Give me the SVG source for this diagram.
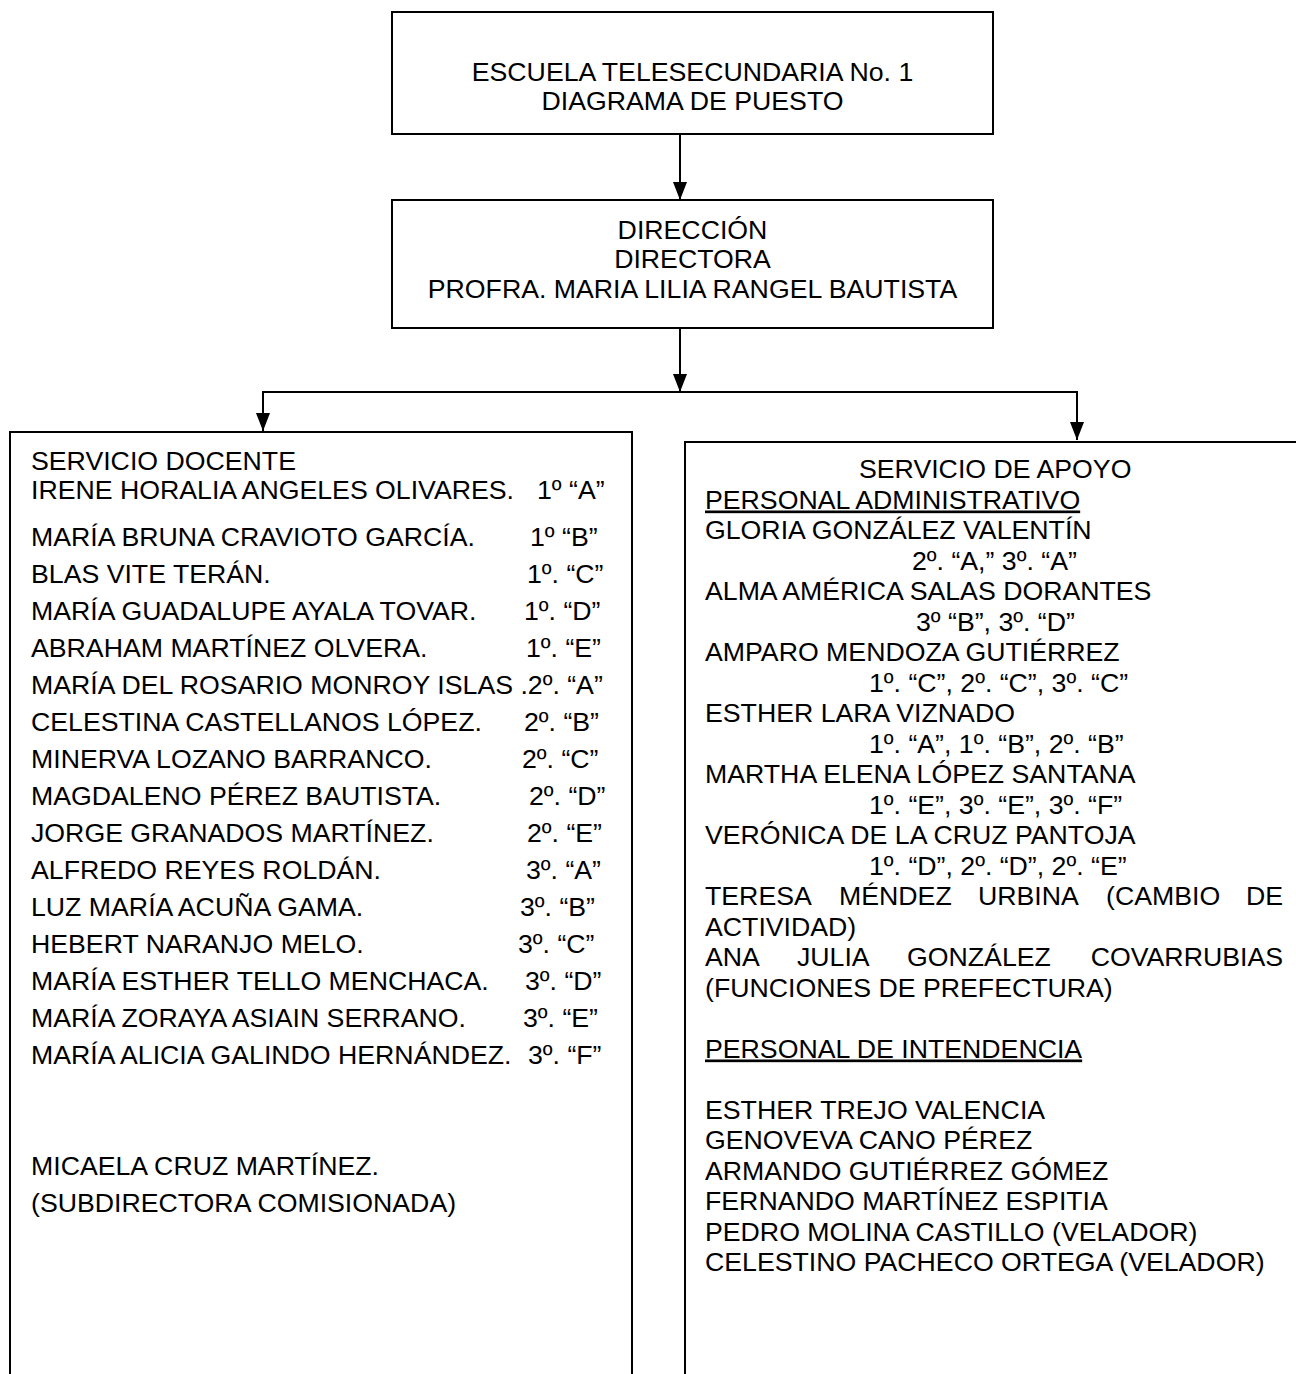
<svg xmlns="http://www.w3.org/2000/svg" width="1296" height="1374" viewBox="0 0 1296 1374">
<style>
text{font-family:"Liberation Sans",Arial,sans-serif;font-size:26.7px;fill:#000}
.c{text-anchor:middle}
.e{text-anchor:end}
.u{text-decoration:underline}
.box{fill:#fff;stroke:#000;stroke-width:2}
.ln{fill:none;stroke:#000;stroke-width:2}
</style>
<defs>
<marker id="ah" viewBox="0 0 18 14" refX="18" refY="7" markerWidth="18" markerHeight="14" markerUnits="userSpaceOnUse" orient="auto">
<path d="M0,0 L18,7 L0,14 Z" fill="#000"/>
</marker>
</defs>
<rect width="1296" height="1374" fill="#fff"/>
<g id="connectors">
<line class="ln" x1="680" y1="135" x2="680" y2="200" marker-end="url(#ah)"/>
<line class="ln" x1="680" y1="329" x2="680" y2="392" marker-end="url(#ah)"/>
<line class="ln" x1="262" y1="392" x2="1078" y2="392"/>
<line class="ln" x1="263" y1="391" x2="263" y2="431" marker-end="url(#ah)"/>
<line class="ln" x1="1077" y1="391" x2="1077" y2="440" marker-end="url(#ah)"/>
</g>
<g id="n_escuela">
<rect class="box" x="392" y="12" width="601" height="122"/>
<text class="c" x="692.5" y="81">ESCUELA TELESECUNDARIA No. 1</text>
<text class="c" x="692.5" y="110">DIAGRAMA DE PUESTO</text>
</g>
<g id="n_direccion">
<rect class="box" x="392" y="200" width="601" height="128"/>
<text class="c" x="692.5" y="239">DIRECCIÓN</text>
<text class="c" x="692.5" y="268">DIRECTORA</text>
<text class="c" x="692.5" y="298">PROFRA. MARIA LILIA RANGEL BAUTISTA</text>
</g>
<g id="n_docente">
<polyline class="ln" points="10,1380 10,432 632,432 632,1380"/>
<text x="31" y="470">SERVICIO DOCENTE</text>
<text x="31" y="499">IRENE HORALIA ANGELES OLIVARES.<tspan x="537">1º “A”</tspan></text>
<text x="31" y="546">MARÍA BRUNA CRAVIOTO GARCÍA.<tspan x="530">1º “B”</tspan></text>
<text x="31" y="583">BLAS VITE TERÁN.<tspan x="527">1º. “C”</tspan></text>
<text x="31" y="620">MARÍA GUADALUPE AYALA TOVAR.<tspan x="524">1º. “D”</tspan></text>
<text x="31" y="657">ABRAHAM MARTÍNEZ OLVERA.<tspan x="526">1º. “E”</tspan></text>
<text x="31" y="694">MARÍA DEL ROSARIO MONROY ISLAS .2º. “A”</text>
<text x="31" y="731">CELESTINA CASTELLANOS LÓPEZ.<tspan x="524">2º. “B”</tspan></text>
<text x="31" y="768">MINERVA LOZANO BARRANCO.<tspan x="522">2º. “C”</tspan></text>
<text x="31" y="805">MAGDALENO PÉREZ BAUTISTA.<tspan x="529">2º. “D”</tspan></text>
<text x="31" y="842">JORGE GRANADOS MARTÍNEZ.<tspan x="527">2º. “E”</tspan></text>
<text x="31" y="879">ALFREDO REYES ROLDÁN.<tspan x="526">3º. “A”</tspan></text>
<text x="31" y="916">LUZ MARÍA ACUÑA GAMA.<tspan x="520">3º. “B”</tspan></text>
<text x="31" y="953">HEBERT NARANJO MELO.<tspan x="518">3º. “C”</tspan></text>
<text x="31" y="990">MARÍA ESTHER TELLO MENCHACA.<tspan x="525">3º. “D”</tspan></text>
<text x="31" y="1027">MARÍA ZORAYA ASIAIN SERRANO.<tspan x="523">3º. “E”</tspan></text>
<text x="31" y="1064">MARÍA ALICIA GALINDO HERNÁNDEZ.<tspan x="528">3º. “F”</tspan></text>
<text x="31" y="1175">MICAELA CRUZ MARTÍNEZ.</text>
<text x="31" y="1212">(SUBDIRECTORA COMISIONADA)</text>
</g>
<g id="n_apoyo">
<polyline class="ln" points="685,1380 685,442 1300,442"/>
<text x="859" y="478">SERVICIO DE APOYO</text>
<text class="u" x="705" y="508.5">PERSONAL ADMINISTRATIVO</text>
<text x="705" y="539">GLORIA GONZÁLEZ VALENTÍN</text>
<text x="912" y="569.5">2º. “A,” 3º. “A”</text>
<text x="705" y="600">ALMA AMÉRICA SALAS DORANTES</text>
<text x="916" y="630.5">3º “B”, 3º. “D”</text>
<text x="705" y="661">AMPARO MENDOZA GUTIÉRREZ</text>
<text x="869" y="691.5">1º. “C”, 2º. “C”, 3º. “C”</text>
<text x="705" y="722">ESTHER LARA VIZNADO</text>
<text x="869" y="752.5">1º. “A”, 1º. “B”, 2º. “B”</text>
<text x="705" y="783">MARTHA ELENA LÓPEZ SANTANA</text>
<text x="869" y="813.5">1º. “E”, 3º. “E”, 3º. “F”</text>
<text x="705" y="844">VERÓNICA DE LA CRUZ PANTOJA</text>
<text x="869" y="874.5">1º. “D”, 2º. “D”, 2º. “E”</text>
<text x="705" y="905">TERESA<tspan x="839">MÉNDEZ</tspan><tspan x="978">URBINA</tspan><tspan x="1106">(CAMBIO</tspan></text>
<text class="e" x="1283" y="905">DE</text>
<text x="705" y="935.5">ACTIVIDAD)</text>
<text x="705" y="966">ANA<tspan x="797">JULIA</tspan><tspan x="907">GONZÁLEZ</tspan></text>
<text class="e" x="1283" y="966">COVARRUBIAS</text>
<text x="705" y="996.5">(FUNCIONES DE PREFECTURA)</text>
<text class="u" x="705" y="1057.5">PERSONAL DE INTENDENCIA</text>
<text x="705" y="1118.5">ESTHER TREJO VALENCIA</text>
<text x="705" y="1149">GENOVEVA CANO PÉREZ</text>
<text x="705" y="1179.5">ARMANDO GUTIÉRREZ GÓMEZ</text>
<text x="705" y="1210">FERNANDO MARTÍNEZ ESPITIA</text>
<text x="705" y="1240.5">PEDRO MOLINA CASTILLO (VELADOR)</text>
<text x="705" y="1271">CELESTINO PACHECO ORTEGA (VELADOR)</text>
</g>
</svg>
